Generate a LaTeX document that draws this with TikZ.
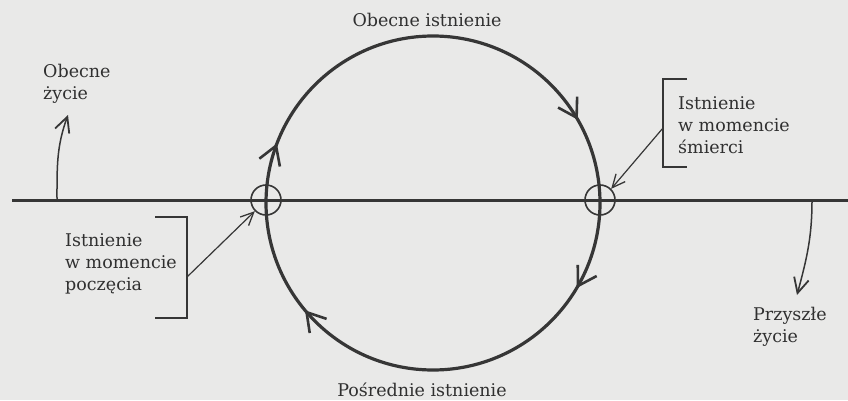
\documentclass[tikz,border=0pt]{standalone}
\usepackage{fontspec}
\setmainfont{DejaVu Serif}
\usepackage{tikz}
\usetikzlibrary{arrows.meta,positioning,calc,decorations.markings}
\definecolor{PageGray}{HTML}{E9E9E8}
\definecolor{InkDark}{HTML}{363636}
\definecolor{InkText}{HTML}{303030}
\tikzset{
  cycletip/.tip={Straight Barb[length=18pt,width=22pt,line width=2.6pt]},
  cycle/.style={line width=3.2pt, draw=InkDark,
                postaction={decorate, decoration={markings,
                  mark=at position 0.085 with {\arrow{cycletip}},
                  mark=at position 0.389 with {\arrow{cycletip}},
                  mark=at position 0.558 with {\arrow{cycletip}},
                  mark=at position 0.917 with {\arrow{cycletip}}}}},
  axis/.style={line width=3pt, draw=InkDark},
  point/.style={circle, draw=InkDark, line width=1.6pt, minimum size=30pt, inner sep=0pt},
  lifearrow/.style={-{Straight Barb[length=15pt,width=15pt,line width=1.8pt]}, line width=1.5pt, draw=InkDark},
  pointer/.style={-{Straight Barb[length=13pt,width=12pt,line width=1.3pt]}, line width=1.2pt, draw=InkDark},
  bracket/.style={line width=1.5pt, draw=InkDark},
  label/.style={align=left, inner sep=0pt, text=InkText},
  title/.style={inner sep=0pt, text=InkText},
}

\begin{document}
\begin{tikzpicture}[x=1pt,y=1pt,font=\fontsize{17.5}{22}\selectfont]
    \fill[PageGray] (0,0) rectangle (848,400);
    \useasboundingbox (0,0) rectangle (848,400);
    % main line and circle
    \coordinate (lineL) at (12,200);
    \coordinate (lineR) at (848,200);
    \coordinate (c) at (433,197);
    \draw[axis] (lineL) -- (lineR);
    \draw[cycle] ($(c)+(167,0)$) arc[start angle=0,end angle=-360,radius=167];
    \node[point] (conc) at (266,200) {};
    \node[point] (death) at (600,200) {};
    \node[title] (now) at (427,380) {Obecne istnienie};
    \node[title] (between) at (422,10) {Pośrednie istnienie};
    % lives
    \node[label,anchor=west] (lifeNow) at (43,316) {Obecne\\życie};
    \coordinate (nowFoot) at (57,200);
    \coordinate (nowTip) at (68,285);
    \draw[lifearrow] (nowFoot) to[out=90,in=250] (nowTip);
    \node[label,anchor=west] (lifeNext) at (753,73) {Przyszłe\\życie};
    \coordinate (nextFoot) at (812,200);
    \coordinate (nextTip) at (797,105);
    \draw[lifearrow] (nextFoot) to[out=-90,in=75] (nextTip);
    % brackets
    \node[label,anchor=west] (atDeath) at (678,275) {Istnienie\\w momencie\\śmierci};
    \draw[bracket] (687,321) -- (663,321) -- (663,233) -- (687,233);
    \coordinate (deathFoot) at (663,272);
    \draw[pointer] (deathFoot) -- (death.45);
    \node[label,anchor=west] (atConc) at (65,136) {Istnienie\\w momencie\\poczęcia};
    \draw[bracket] (155,183) -- (187,183) -- (187,82) -- (155,82);
    \coordinate (concFoot) at (187,123);
    \draw[pointer] (concFoot) -- (conc.225);
\end{tikzpicture}
\end{document}
